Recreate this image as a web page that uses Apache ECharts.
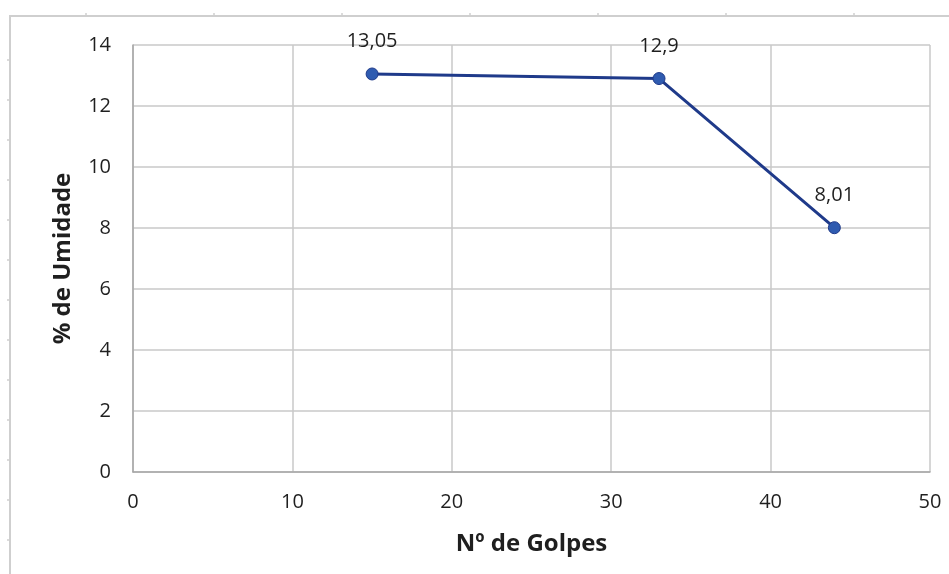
<!DOCTYPE html>
<html>
<head>
<meta charset="utf-8">
<script src="https://cdn.jsdelivr.net/npm/echarts@6/dist/echarts.min.js"></script>
<style>
  html, body { margin: 0; padding: 0; background: #ffffff; }
  #chart { width: 949px; height: 574px; }
</style>
</head>
<body>
<div id="chart"></div>
<script>
// Número de golpes x teor de umidade
const golpes = [15, 33, 44];
const umidade = [13.05, 12.9, 8.01];
const xTicks = [0, 10, 20, 30, 40, 50];
const yTicks = [0, 2, 4, 6, 8, 10, 12, 14];

const FONT = '"Open Sans", "Noto Sans", sans-serif';
const TEXT = '#1f1f1f';

// Light frame around the chart area (ruler-like border with small notches)
const frame = [];
frame.push({ type: 'line', shape: { x1: 9, y1: 16, x2: 949, y2: 16 }, style: { stroke: '#cfcfcf', lineWidth: 2 } });
frame.push({ type: 'line', shape: { x1: 10, y1: 16, x2: 10, y2: 574 }, style: { stroke: '#cfcfcf', lineWidth: 2 } });
for (let x = 86; x < 949; x += 128) {
  frame.push({ type: 'line', shape: { x1: x, y1: 13, x2: x, y2: 16 }, style: { stroke: '#cfcfcf', lineWidth: 1.5 } });
}
for (let y = 60; y < 574; y += 40) {
  frame.push({ type: 'line', shape: { x1: 7, y1: y, x2: 10, y2: y }, style: { stroke: '#cfcfcf', lineWidth: 1.5 } });
}

const chart = echarts.init(document.getElementById('chart'), null, { renderer: 'canvas' });
chart.setOption({
  animation: false,
  backgroundColor: '#ffffff',
  graphic: frame,
  grid: { left: 133, right: 19, top: 45, bottom: 102, containLabel: false },
  xAxis: {
    type: 'value',
    min: xTicks[0],
    max: xTicks[xTicks.length - 1],
    interval: xTicks[1] - xTicks[0],
    name: 'Nº de Golpes',
    nameLocation: 'middle',
    nameGap: 60,
    nameTextStyle: { fontFamily: FONT, fontSize: 24, fontWeight: 'bold', color: TEXT },
    axisLine: { show: true, lineStyle: { color: '#a6a6a6', width: 1.5 } },
    axisTick: { show: false },
    axisLabel: { margin: 20, fontFamily: FONT, fontSize: 20, color: TEXT },
    splitLine: { show: true, lineStyle: { color: '#c8c8c8', width: 1.5 } }
  },
  yAxis: {
    type: 'value',
    min: yTicks[0],
    max: yTicks[yTicks.length - 1],
    interval: yTicks[1] - yTicks[0],
    name: '% de Umidade',
    nameLocation: 'middle',
    nameGap: 58,
    nameTextStyle: { fontFamily: FONT, fontSize: 24, fontWeight: 'bold', color: TEXT },
    axisLine: { show: true, lineStyle: { color: '#a6a6a6', width: 1.5 } },
    axisTick: { show: false },
    axisLabel: { margin: 22, fontFamily: FONT, fontSize: 20, color: TEXT },
    splitLine: { show: true, lineStyle: { color: '#c8c8c8', width: 1.5 } }
  },
  series: [{
    type: 'line',
    data: golpes.map((g, i) => [g, umidade[i]]),
    symbol: 'circle',
    symbolSize: 12,
    lineStyle: { color: '#1f3a8a', width: 3 },
    itemStyle: { color: '#2f5bb0', borderColor: '#1f3a8a', borderWidth: 1 },
    label: {
      show: true,
      position: 'top',
      distance: 16,
      fontFamily: FONT,
      fontSize: 20,
      color: TEXT,
      formatter: p => String(p.value[1]).replace('.', ',')
    }
  }]
});
</script>
</body>
</html>
